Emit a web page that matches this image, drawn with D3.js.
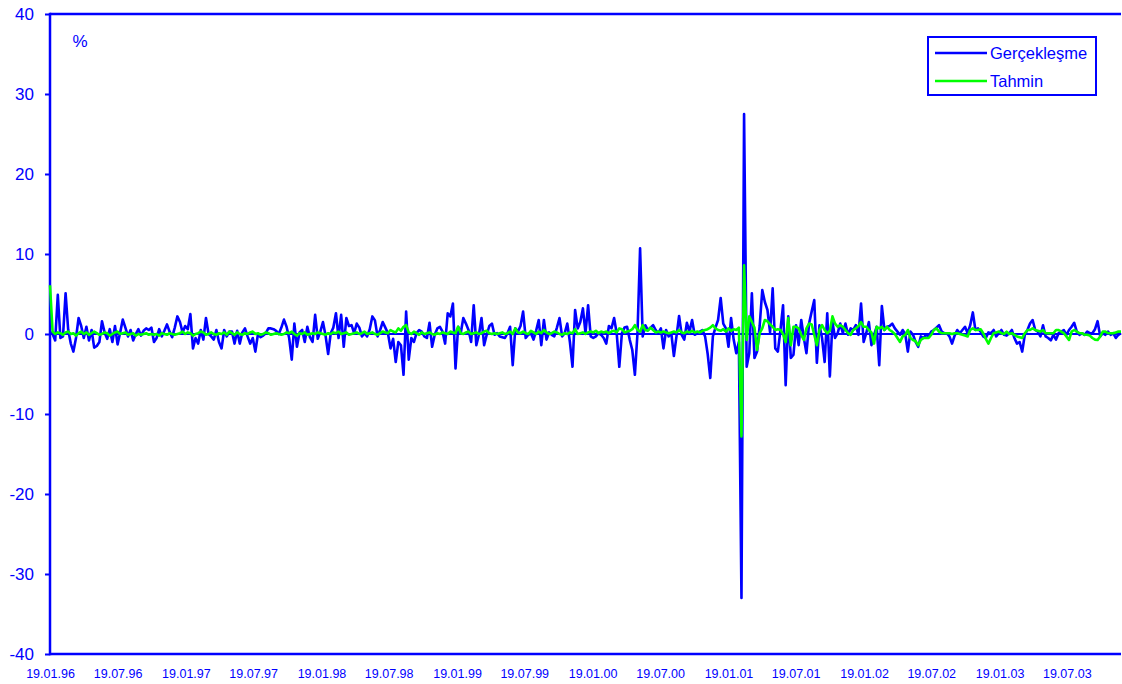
<!DOCTYPE html>
<html>
<head>
<meta charset="utf-8">
<script src="https://cdn.jsdelivr.net/npm/d3@7"></script>
<style>
  body { margin: 0; background: #fff; }
  svg { display: block; font-family: Arial, "Liberation Sans", sans-serif; }
</style>
</head>
<body>
<div id="chart"></div>
<script>
// weekly series, first observation on 19.01.96
const startDate = "19.01.96";
const tickLabels = ["19.01.96", "19.07.96", "19.01.97", "19.07.97", "19.01.98", "19.07.98",
  "19.01.99", "19.07.99", "19.01.00", "19.07.00", "19.01.01", "19.07.01",
  "19.01.02", "19.07.02", "19.01.03", "19.07.03"];
const yTicks = [-40, -30, -20, -10, 0, 10, 20, 30, 40];
const seriesNames = ["Gerçekleşme", "Tahmin"];

const actual = [
  0.3, 0.0, -0.8, 4.9, -0.5, -0.3, 5.1, 0.5, -1.2, -2.2,
  -0.5, 2.0, 1.0, -0.5, 0.9, -0.8, 0.5, -1.7, -1.5, -1.0,
  1.6, 0.2, -0.6, 0.6, -1.0, 1.0, -1.3, 0.2, 1.8, 0.8,
  -0.3, 0.5, -0.8, 0.0, 0.6, -0.2, 0.4, 0.7, 0.5, 0.8,
  -1.0, -0.5, 0.6, -0.3, 0.4, 1.2, 0.3, -0.4, 0.8, 2.2,
  1.5, 0.2, 1.0, 0.6, 2.5, -1.8, -0.5, -1.2, 0.5, -0.7,
  2.0, 0.0, -0.3, -0.7, 0.5, -1.0, -1.8, 0.5, -0.3, 0.3,
  // 70
  0.3, -1.2, 0.4, -1.2, 0.2, 0.7, -0.3, -1.2, -0.5, -2.2,
  0.0, -0.4, -0.2, 0.1, 0.7, 0.7, 0.6, 0.4, 0.0, 0.8,
  1.8, 0.9, -0.5, -3.2, 1.3, -1.6, 0.2, 0.5, -1.0, 0.9,
  -0.4, -1.0, 2.4, -0.6, 0.3, 1.5, -0.2, -2.5, 0.1, 0.8,
  2.6, -0.5, 2.4, -1.6, 2.0, 1.0, 1.1, 0.1, 1.3, 0.8,
  -0.3, 0.1, -0.3, 0.6, 2.2, 1.7, -0.3, 0.5, 1.5, 0.8,
  0.1, -1.8, -0.6, -3.5, -1.0, -1.4, -5.1, 2.8, -3.2, -0.5,
  // 140
  -1.0, 0.1, 0.5, 0.3, -0.3, -0.5, 1.4, -1.6, -0.1, 0.7,
  0.9, 0.3, -1.2, 2.6, 2.2, 3.8, -4.3, 0.9, 0.1, 2.0,
  1.3, 0.5, -1.0, 3.6, -1.4, -0.1, 2.0, -1.4, -0.1, 1.0,
  1.3, -0.1, 0.1, -0.3, -0.4, -0.5, 0.1, 0.9, -3.9, 0.7,
  0.3, 1.0, 2.8, -0.5, -0.1, 0.1, -0.7, 0.4, 1.75, -1.4,
  1.75, -0.7, 0.2, -0.1, -0.3, 0.8, 2.0, -0.3, 0.1, 1.3,
  -1.0, -4.1, 3.0, 0.7, 1.5, 3.2, 0.1, 3.6,
  // 208
  -0.3, -0.5, -0.3, 0.1, -0.1, -0.5, -1.2, 1.0, 0.7, 2.0,
  0.1, -4.1, 0.1, 0.8, 0.9, -0.7, -2.0, -5.1, 0.1, 10.7,
  -0.3, 1.1, 0.5, 0.8, 1.1, 0.5, 0.1, 0.7, -1.8, 0.5,
  -0.3, 0.1, -2.75, -0.3, 2.25, -0.1, -0.7, 1.4, 0.3, 1.75,
  -0.1, 0.1, 0.3, 0.5, -0.3, -2.5, -5.5, -0.3, 0.8, 1.75,
  4.5, 1.3, 0.7, -1.6, 2.0, -0.7, -2.4, -1.0, -33.0, 27.5,
  -4.1, -2.4, 5.1, -3.0, -2.2, 1.0, 5.5, 4.0, 3.0, 0.2,
  // 278
  5.7, -1.8, -2.2, 0.5, 3.6, -6.4,
  2.2, -3.0, -2.6, 1.1, -1.4, 1.75, -0.5, -2.4, 1.3, 2.8,
  4.25, -3.6, 1.1, -0.5, -3.5, 2.6, -5.3, 1.5, -0.5, 0.1,
  1.3, 0.1, 1.3, -0.1, 0.7, 0.5, 1.1, -0.1, 3.8, -1.0,
  0.1, 1.5, -1.4, -0.1, 0.9, -3.9, 3.5, 0.5, 0.9, 1.0,
  1.3, 0.7, 0.3, -0.1, 0.5, 0.0, -2.2, 0.3, -0.1, -1.0,
  -1.6, -0.3, -0.5, -0.1, -0.3, 0.3, 0.5, 0.8, 1.1, 0.3,
  0.1, 0.1,
  // 346
  -0.3, -1.2, -0.2, 0.5, 0.1, 0.5, 0.9, 0.1, 1.1, 2.7,
  0.5, 0.7, 0.3, -0.3, -0.5, 0.2, 0.1, 0.5, -0.3, 0.1,
  0.5, -0.1, -0.2, 0.1, 0.5, -0.5, -1.2, -1.0, -2.2, -0.1,
  0.5, 1.3, 1.75, 0.5, 0.3, -0.3, 1.1, -0.3, -0.5, -0.8,
  -0.1, -0.7, 0.1, 0.3, 0.5, -0.1, 0.5, 0.9, 1.4, 0.3,
  -0.1, 0.1, -0.1, 0.3, 0.1, 0.1, 0.6, 1.6, -0.3, 0.1,
  -0.1, 0.3, -0.1, 0.1, -0.5, -0.1, 0.1
];

const forecast = [
  6.1, 0.3, 0.0, 0.2, 0.1, -0.1, 0.2, 0.3, 0.0, 0.1,
  -0.2, 0.1, 0.3, 0.0, 0.2, -0.1, 0.1, 0.3, 0.1, -0.1,
  0.0, 0.2, 0.1, -0.2, 0.0, 0.2, 0.3, 0.0, 0.1, 0.2,
  -0.1, 0.0, 0.1, -0.2, 0.0, -0.1, 0.0, 0.1, -0.1, 0.0,
  -0.1, 0.0, -0.2, 0.1, 0.0, -0.1, 0.1, 0.0, -0.1, 0.0,
  0.1, 0.3, 0.0, 0.2, 0.1, -0.2, 0.0, 0.1, 0.3, 0.2,
  -0.1, 0.0, 0.2, 0.0, -0.1, 0.1, 0.0, 0.2, -0.1, 0.3,
  // 70
  0.1, -0.1, 0.2, 0.0, -0.1, 0.1, 0.0, 0.2, 0.3, 0.0,
  0.1, -0.1, 0.0, 0.2, 0.1, -0.1, 0.0, 0.1, 0.0, -0.1,
  0.0, 0.2, 0.1, 0.3, 0.0, -0.2, 0.1, 0.0, 0.2, -0.1,
  0.0, 0.1, 0.0, 0.2, 0.1, 0.0, -0.1, 0.1, 0.0, 0.2,
  0.1, 0.3, 0.0, 0.1, 0.2, -0.1, 0.0, 0.1, 0.2, 0.0,
  0.1, 0.3, 0.0, 0.1, 0.2, 0.0, -0.1, 0.1, 0.3, 0.2,
  0.1, 0.5, 0.3, 0.2, 0.7, 0.4, 0.9, 1.1, 0.2, 0.0,
  // 140
  0.3, 0.1, -0.1, 0.2, 0.0, 0.1, 0.2, 0.0, -0.1, 0.1,
  0.0, 0.2, 0.1, 0.0, 0.3, 0.2, 0.1, 0.9, 0.1, 0.0,
  0.2, 0.3, 0.0, 0.1, 0.2, 0.0, 0.1, 0.3, 0.4, 0.1,
  0.0, 0.1, 0.0, 0.1, 0.2, 0.0, 0.1, 0.3, 0.0, 0.7,
  0.2, 0.1, 0.3, 0.1, 0.0, 0.4, 0.2, 0.0, 0.3, 0.1,
  0.5, 0.2, 0.0, 0.1, 0.3, 0.2, 0.0, -0.1, 0.1, 0.0,
  0.2, 0.1, 0.6, 0.0, 0.1, 0.2, 0.0, 0.2,
  // 208
  0.3, 0.2, 0.4, 0.1, 0.3, 0.2, 0.3, 0.1, 0.3, 0.4,
  0.2, 0.7, 0.6, 0.2, 0.3, 0.4, 0.6, 1.1, 0.5, 0.3,
  1.1, 0.5, 0.4, 0.8, 0.5, 0.2, 0.3, 0.2, 0.3, 0.2,
  0.1, 0.2, 0.3, 0.2, 0.5, 0.2, 0.1, 0.3, 0.2, 0.4,
  0.2, 0.3, 0.2, 0.4, 0.5, 0.6, 0.8, 1.1, 0.7, 0.5,
  0.4, 0.6, 0.3, 0.7, 0.4, 0.6, 0.5, 0.8,
  // 266
  -12.8, 8.6, -0.75, 2.2, 1.5, 0.8, -2.0, 0.1, 0.7, 1.75,
  1.6, 1.2, 0.9, 0.5, 0.6, 0.5, 0.0, -1.0,
  // 284
  2.0, -1.4, 0.9, 0.9, 0.7, -0.1, -0.75, 0.7, 1.3, 1.2,
  -0.1, -1.4, 0.5, 1.1, 0.5, 0.1, 0.4, 2.2, 1.3, 0.9,
  1.1, 0.9, 0.5, 0.1, -0.1, 0.5, 0.7, 1.0, 1.5, 0.9,
  0.9, 0.5, 0.2, -1.2, 0.9, 0.7, 0.9, 0.5, 0.9, 0.5,
  0.3, 0.0, -0.5, -1.0, -0.3, -0.1, 0.5, -0.5, -0.75, -0.9,
  -1.4, -0.75, -0.5, -0.5, -0.5, -0.1, 0.5, 0.7, 0.3, 0.1,
  0.1, 0.1,
  // 346
  0.1, 0.0, 0.1, 0.1, 0.0, -0.1, -0.2, -0.3, 0.5, 0.7,
  0.5, 0.5, 0.6, 0.1, -0.6, -1.2, -0.5, 0.1, 0.2, 0.3,
  0.1, 0.0, 0.3, 0.0, 0.1, -0.1, -0.3, -0.4, -0.5, 0.1,
  0.5, 0.5, 0.7, 0.5, 0.4, 0.3, 0.5, 0.1, 0.1, 0.1,
  0.1, 0.5, 0.5, 0.3, 0.1, -0.3, -0.75, 0.3, 0.5, 0.3,
  0.1, 0.1, -0.1, -0.1, -0.2, -0.5, -0.7, -0.75, -0.3, 0.3,
  0.3, 0.1, 0.1, 0.1, 0.2, 0.3, 0.3
];

const width = 1122, height = 684;
const plotLeft = 50, plotTop = 14, plotRight = 1121, plotBottom = 654;
const blue = "#0000ff", green = "#00ff00";

const parse = d3.timeParse("%d.%m.%y");
const t0 = parse(startDate);
const dates = actual.map((d, i) => d3.timeWeek.offset(t0, i));

const x = d3.scaleTime()
    .domain([t0, dates[dates.length - 1]])
    .range([plotLeft, plotRight]);
const y = d3.scaleLinear()
    .domain([-40, 40])
    .range([plotBottom, plotTop]);

const svg = d3.select("#chart")
  .append("svg")
    .attr("width", width)
    .attr("height", height);

// frame top
svg.append("line")
    .attr("x1", plotLeft).attr("x2", plotRight)
    .attr("y1", plotTop).attr("y2", plotTop)
    .attr("stroke", blue).attr("stroke-width", 2.5);

// zero line
svg.append("line")
    .attr("x1", plotLeft).attr("x2", plotRight)
    .attr("y1", y(0)).attr("y2", y(0))
    .attr("stroke", blue).attr("stroke-width", 2);

// y axis
const gy = svg.append("g")
    .attr("transform", `translate(${plotLeft},0)`)
    .call(d3.axisLeft(y).tickValues(yTicks).tickFormat(d => String(d))
      .tickSize(5).tickSizeOuter(0).tickPadding(11));
gy.select(".domain").remove();
gy.selectAll(".tick line").attr("stroke", blue).attr("stroke-width", 2);
gy.selectAll(".tick text")
    .attr("fill", blue)
    .style("font-size", "17px")
    .style("font-family", "Arial, 'Liberation Sans', sans-serif");
svg.append("line")
    .attr("x1", plotLeft).attr("x2", plotLeft)
    .attr("y1", plotTop - 1.25).attr("y2", plotBottom + 1.25)
    .attr("stroke", blue).attr("stroke-width", 2.5);

// x axis
const gx = svg.append("g")
    .attr("transform", `translate(0,${plotBottom})`)
    .call(d3.axisBottom(x)
      .tickValues(tickLabels.map(parse))
      .tickFormat(d3.timeFormat("%d.%m.%y"))
      .tickSize(0).tickSizeOuter(0));
gx.select(".domain").remove();
gx.selectAll(".tick text")
    .attr("fill", blue)
    .attr("y", 24)
    .attr("dy", null)
    .style("font-size", "12.5px")
    .style("font-family", "Arial, 'Liberation Sans', sans-serif");
svg.append("line")
    .attr("x1", plotLeft).attr("x2", plotRight)
    .attr("y1", plotBottom).attr("y2", plotBottom)
    .attr("stroke", blue).attr("stroke-width", 2.5);

// series, drawn over the axes
const line = d3.line()
    .x((d, i) => x(dates[i]))
    .y(d => y(d));

svg.append("path")
    .datum(actual)
    .attr("fill", "none")
    .attr("stroke", blue)
    .attr("stroke-width", 2.6)
    .attr("stroke-linejoin", "round")
    .attr("d", line);

svg.append("path")
    .datum(forecast)
    .attr("fill", "none")
    .attr("stroke", green)
    .attr("stroke-width", 2.6)
    .attr("stroke-linejoin", "round")
    .attr("d", line);

// unit label
svg.append("text")
    .attr("x", 80).attr("y", 47)
    .attr("text-anchor", "middle")
    .attr("fill", blue)
    .style("font-size", "17px")
    .text("%");

// legend
const legend = svg.append("g").attr("transform", "translate(928,37)");
legend.append("rect")
    .attr("width", 168).attr("height", 58)
    .attr("fill", "#fff")
    .attr("stroke", blue).attr("stroke-width", 2);
const items = legend.selectAll(".item")
  .data(seriesNames)
  .enter().append("g")
    .attr("transform", (d, i) => `translate(0,${16 + i * 28})`);
items.append("line")
    .attr("x1", 7).attr("x2", 59)
    .attr("stroke", (d, i) => i == 0 ? blue : green)
    .attr("stroke-width", 2.6);
items.append("text")
    .attr("x", 62).attr("y", 6)
    .attr("fill", blue)
    .style("font-size", "16.5px")
    .text(d => d);
</script>
</body>
</html>
